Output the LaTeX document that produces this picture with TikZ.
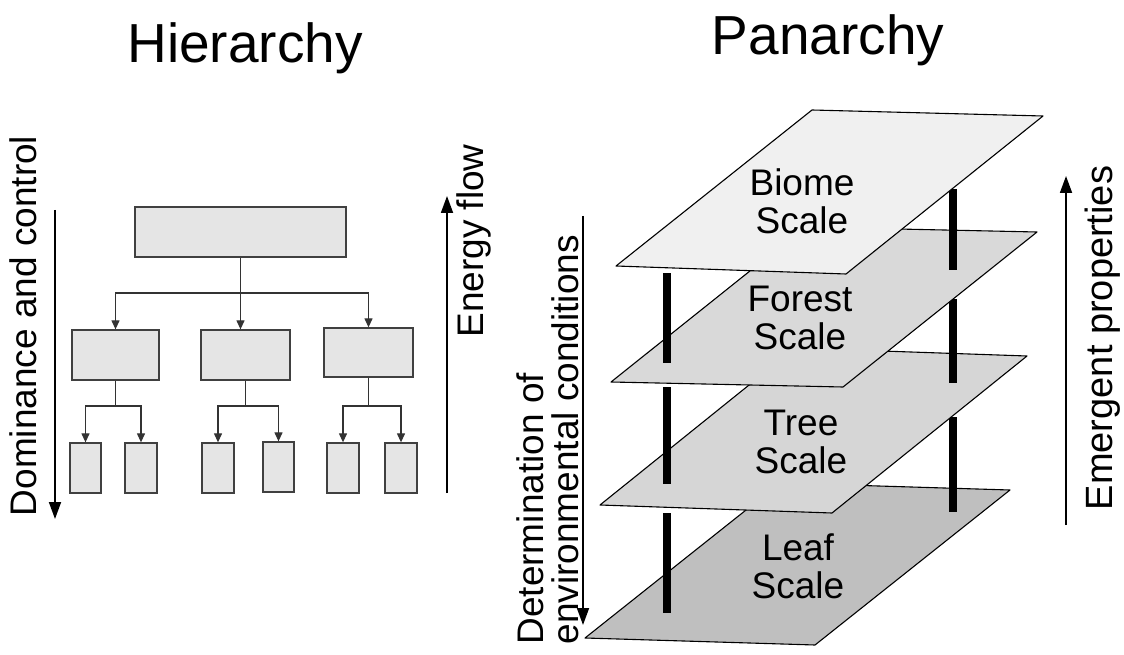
\documentclass[tikz,border=0pt]{standalone}
\usepackage{fontspec}
\setmainfont{Liberation Sans}
\usetikzlibrary{arrows.meta}
\tikzset{
  box/.style={draw=black!75,fill=black!10,line width=1.3pt,inner sep=0pt},
  link/.style={-{Triangle[length=9pt,width=8pt]},draw=black!80,line width=1.2pt},
  bigarrow/.style={-{Triangle[length=17pt,width=12pt]},line width=1.8pt},
  plane/.style={draw=black,line width=1.1pt,line join=round},
  pole/.style={line width=7.5pt},
  heading/.style={font=\fontsize{55}{60}\selectfont,anchor=base},
  lbl/.style={font=\fontsize{37}{38}\selectfont,align=center},
  side/.style={font=\fontsize{37}{38}\selectfont,rotate=90}
}
\begin{document}
\begin{tikzpicture}[x=1pt,y=-1pt]
  \useasboundingbox (0,0) rectangle (1124,655);
  % hierarchy
  \node[heading] (hier) at (245,63) {Hierarchy};
  \node[box,minimum width=211pt,minimum height=50pt] (top) at (240.5,232) {};
  \node[box,minimum width=87pt,minimum height=50pt] (m1) at (115.5,355) {};
  \node[box,minimum width=89pt,minimum height=50pt] (m2) at (245.5,355) {};
  \node[box,minimum width=89pt,minimum height=49pt] (m3) at (368.5,352.5) {};
  \node[box,minimum width=31pt,minimum height=50pt] (l1) at (85.5,468) {};
  \node[box,minimum width=32pt,minimum height=50pt] (l2) at (141,468) {};
  \node[box,minimum width=32pt,minimum height=50pt] (l3) at (218,468) {};
  \node[box,minimum width=31pt,minimum height=50pt] (l4) at (278.5,467) {};
  \node[box,minimum width=32pt,minimum height=50pt] (l5) at (343,468) {};
  \node[box,minimum width=32pt,minimum height=50pt] (l6) at (401,468) {};
  \coordinate (lv1) at (0,293);
  \coordinate (lv2) at (0,406);
  \draw[link] (top.south) -- (top.south |- m2.north);
  \draw[link] (top.south |- lv1) -| (m1.north);
  \draw[link] (top.south |- lv1) -| (m3.north);
  \draw[link] (m1.south) -- (m1.south |- lv2) -| (l1.north);
  \draw[link] (m1.south |- lv2) -| (l2.north);
  \draw[link] (m2.south) -- (m2.south |- lv2) -| (l3.north);
  \draw[link] (m2.south |- lv2) -| (l4.north);
  \draw[link] (m3.south) -- (m3.south |- lv2) -| (l5.north);
  \draw[link] (m3.south |- lv2) -| (l6.north);
  \coordinate (dom1) at (55,210);
  \coordinate (dom2) at (55,519);
  \draw[bigarrow] (dom1) -- (dom2);
  \node[side,anchor=base] (dom) at (36,326) {Dominance and control};
  \coordinate (en1) at (447,493);
  \coordinate (en2) at (447,196);
  \draw[bigarrow] (en1) -- (en2);
  \node[side,anchor=base] (energy) at (483,241) {Energy flow};
  % panarchy
  \node[heading] (pan) at (828,55) {Panarchy};
  \filldraw[plane,fill=black!25] (780,483) -- (1010,490) -- (815,645) -- (585,638) -- cycle;
  \draw[pole] (667,513) -- (667,613);
  \draw[pole] (953,417) -- (953,512);
  \filldraw[plane,fill=black!16] (795,348) -- (1027,356) -- (832,513) -- (600,505) -- cycle;
  \draw[pole] (667,387) -- (667,484);
  \draw[pole] (953,299) -- (953,383);
  \filldraw[plane,fill=black!15] (805,227) -- (1037,232) -- (843,387) -- (611,382) -- cycle;
  \draw[pole] (667,273) -- (667,363);
  \draw[pole] (953,189) -- (953,270);
  \filldraw[plane,fill=black!6] (812,110) -- (1043,116) -- (846,274) -- (616,266) -- cycle;
  \node[lbl] (biome) at (802,201) {Biome\\Scale};
  \node[lbl] (forest) at (800,318) {Forest\\Scale};
  \node[lbl] (tree) at (801,442) {Tree\\Scale};
  \node[lbl] (leaf) at (798,566) {Leaf\\Scale};
  \coordinate (det1) at (583,216);
  \coordinate (det2) at (583,625);
  \draw[bigarrow] (det1) -- (det2);
  \node[side,anchor=base west] (detA) at (543,648) {Determination of};
  \node[side,anchor=base west] (detB) at (578,648) {environmental conditions};
  \coordinate (em1) at (1066,525);
  \coordinate (em2) at (1066,176);
  \draw[bigarrow] (em1) -- (em2);
  \node[side,anchor=base,font=\fontsize{38}{38}\selectfont] (emerg) at (1112,338) {Emergent properties};
\end{tikzpicture}
\end{document}
